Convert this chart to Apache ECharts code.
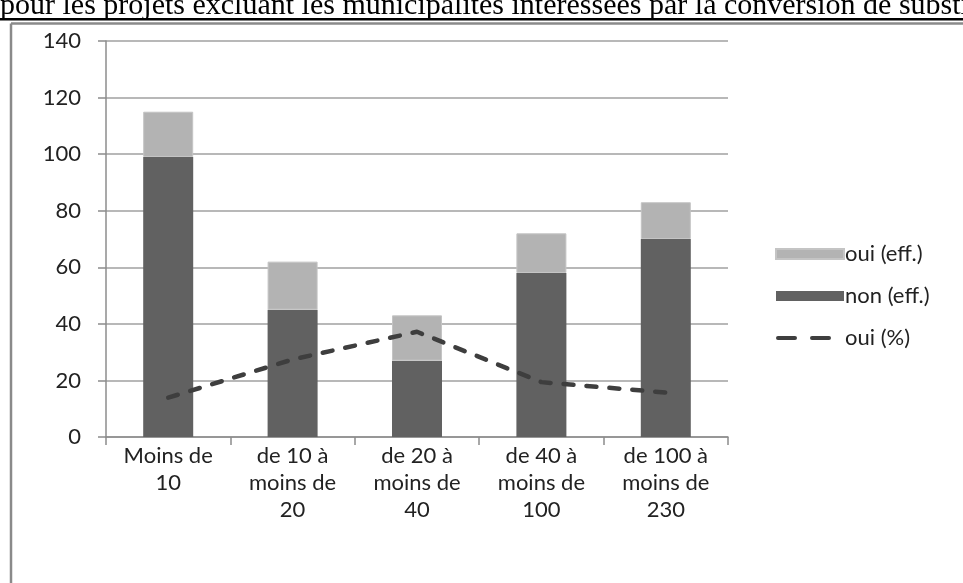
<!DOCTYPE html>
<html>
<head>
<meta charset="utf-8">
<script src="https://cdn.jsdelivr.net/npm/echarts@6/dist/echarts.min.js"></script>
<style>
html,body{margin:0;padding:0;background:#fff;}
#chart{width:963px;height:583px;}
</style>
</head>
<body>
<div id="chart"></div>
<script>
const titleText = "pour les projets excluant les municipalités intéressées par la conversion de substitution";
const categories = ["Moins de\n10", "de 10 à\nmoins de\n20", "de 20 à\nmoins de\n40", "de 40 à\nmoins de\n100", "de 100 à\nmoins de\n230"];
const ouiEff = [16, 17, 16, 14, 13];
const nonEff = [99, 45, 27, 58, 70];
const ouiPct = [13.9, 27.4, 37.2, 19.4, 15.7];
const yTicks = [0, 20, 40, 60, 80, 100, 120, 140];

const chart = echarts.init(document.getElementById('chart'));
const font = 'Lato, "Open Sans", sans-serif';
const dashIcon = 'path://M0,0h0.01v0.01h-0.01z M67.99,9.99h0.01v0.01h-0.01z M2,3h17a2,2 0 0 1 0,4h-17a2,2 0 0 1 0,-4z M36,3h17a2,2 0 0 1 0,4h-17a2,2 0 0 1 0,-4z';
chart.setOption({
  animation: false,
  backgroundColor: '#fff',
  grid: { left: 106, right: 235, top: 41, bottom: 146 },
  legend: {
    orient: 'vertical',
    left: 770, top: 238,
    itemWidth: 68, itemHeight: 10, itemGap: 20,
    textStyle: { fontFamily: font, fontSize: 22, color: '#222', padding: [0,0,0,-4] },
    data: [
      { name: 'oui (eff.)', icon: 'rect' },
      { name: 'non (eff.)', icon: 'rect' },
      { name: 'oui (%)', icon: dashIcon, itemStyle: { color: '#3e3e3e', borderWidth: 0 } }
    ]
  },
  xAxis: {
    type: 'category',
    data: categories,
    axisLine: { lineStyle: { color: '#8c8c8c', width: 1.5 } },
    axisTick: { show: true, length: 8, lineStyle: { color: '#8c8c8c', width: 1.5 } },
    axisLabel: { fontFamily: font, fontSize: 22, color: '#222', lineHeight: 27, margin: 5 }
  },
  yAxis: {
    type: 'value', min: 0, max: 140, interval: 20,
    axisLine: { show: true, lineStyle: { color: '#8c8c8c', width: 1.5 } },
    axisTick: { show: true, length: 8, lineStyle: { color: '#8c8c8c', width: 1.5 } },
    splitLine: { lineStyle: { color: '#a0a0a0', width: 1.5 } },
    axisLabel: { fontFamily: font, fontSize: 22, color: '#222', margin: 25,
      formatter: v => yTicks.includes(v) ? String(v) : '' }
  },
  series: [
    { name: 'non (eff.)', type: 'bar', stack: 'eff', data: nonEff, barWidth: 50,
      itemStyle: { color: '#616161' } },
    { name: 'oui (eff.)', type: 'bar', stack: 'eff', data: ouiEff, barWidth: 50,
      itemStyle: { color: '#b3b3b3', borderColor: '#c4c4c4', borderWidth: 1 } },
    { name: 'oui (%)', type: 'line', data: ouiPct, symbol: 'none', z: 5,
      lineStyle: { color: '#3e3e3e', width: 4.5, type: [10, 13], cap: 'round', join: 'round' },
      itemStyle: { color: '#3e3e3e' } }
  ],
  graphic: [
    { type: 'text', z: 10,
      style: { x: 0, y: 6, text: titleText, font: '30px "Liberation Serif", serif', fill: '#000', verticalAlign: 'middle' } },
    { type: 'rect', z: 10, shape: { x: 0, y: 18, width: 963, height: 2.5 }, style: { fill: '#000' } },
    { type: 'line', z: 10, shape: { x1: 11, y1: 23.5, x2: 963, y2: 23.5 }, style: { stroke: '#8a8a8a', lineWidth: 2.5 } },
    { type: 'line', z: 10, shape: { x1: 11, y1: 23.5, x2: 11, y2: 583 }, style: { stroke: '#8a8a8a', lineWidth: 2.5 } }
  ]
});
</script>
</body>
</html>
